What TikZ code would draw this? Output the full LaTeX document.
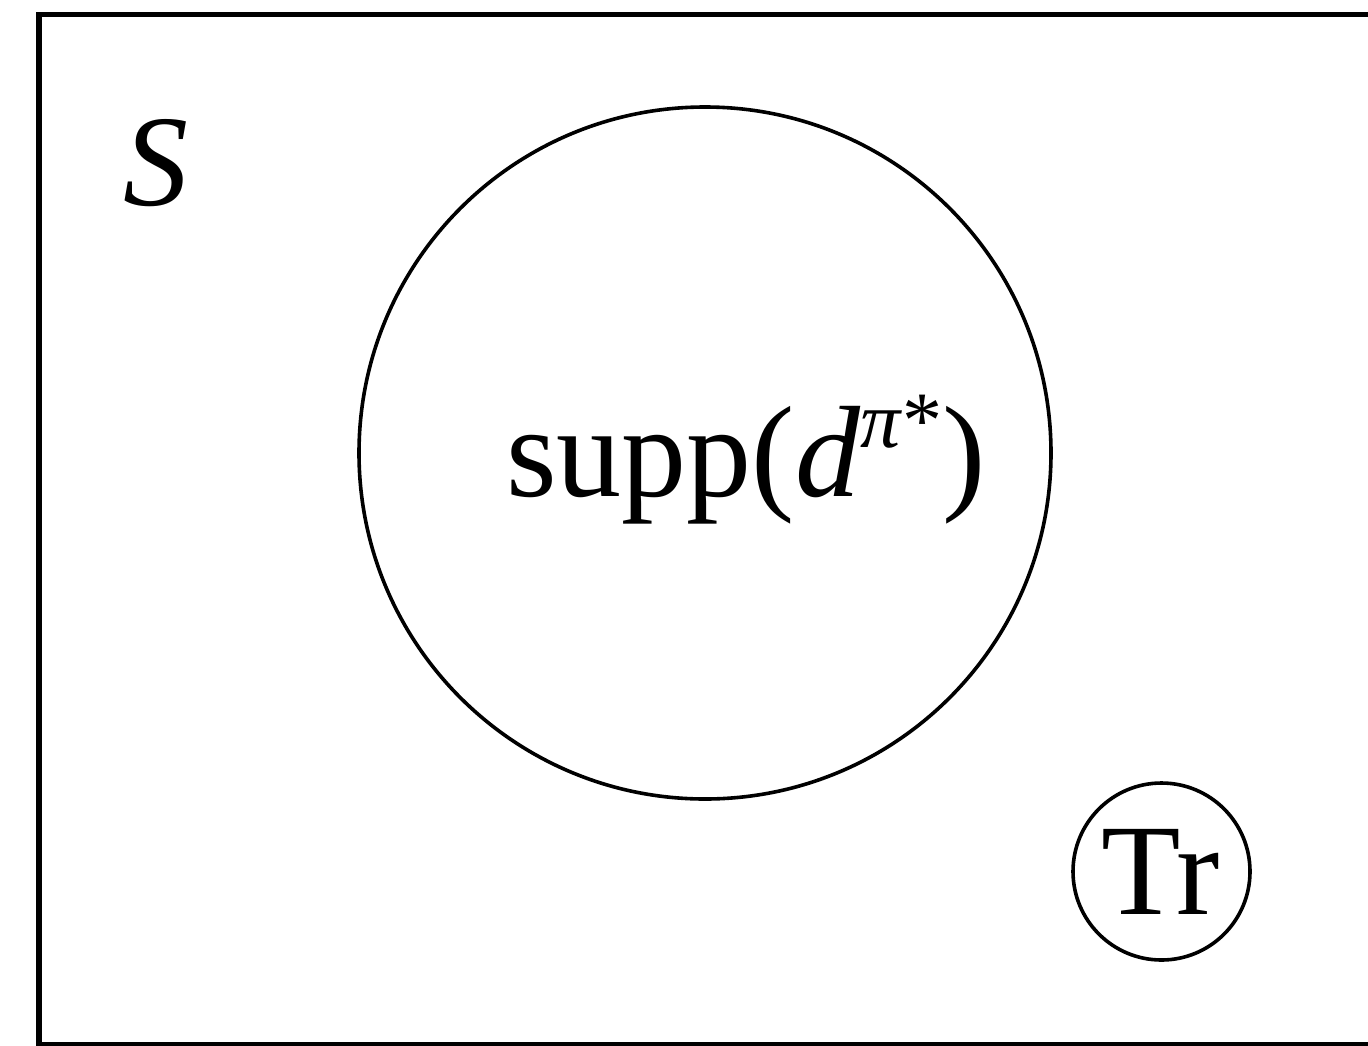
\documentclass[tikz,border=0pt]{standalone}
\usepackage{fontspec}
\setmainfont{Liberation Serif}[ItalicFont={Liberation Serif Italic},BoldFont={Liberation Serif Bold}]
\begin{document}
\begin{tikzpicture}[x=1pt,y=-1pt,
  frame/.style={draw=black,line width=5.5pt},
  ring/.style={draw=black,line width=3.6pt,circle,inner sep=0pt},
  bigtext/.style={inner sep=0pt,font=\fontsize{130}{130}\selectfont}]
\useasboundingbox (0,0) rectangle (1368,1045);
\clip (0,0) rectangle (1368,1045);
\draw[frame] (39,14.5) rectangle (1420,1044.5);
\node[bigtext,anchor=base west] (S) at (123,205) {\textit{S}};
\node[ring,minimum size=692pt] (supp) at (705,453) {};
\node[bigtext,anchor=base west] (supptext) at (506,496)
  {supp(\textit{d}\raisebox{49pt}{\fontsize{80}{80}\selectfont\textit{π}*})};
\node[ring,minimum size=177pt] (tr) at (1161.5,871.5) {};
\node[bigtext,anchor=base west] (trtext) at (1101,914) {Tr};
\end{tikzpicture}
\end{document}
